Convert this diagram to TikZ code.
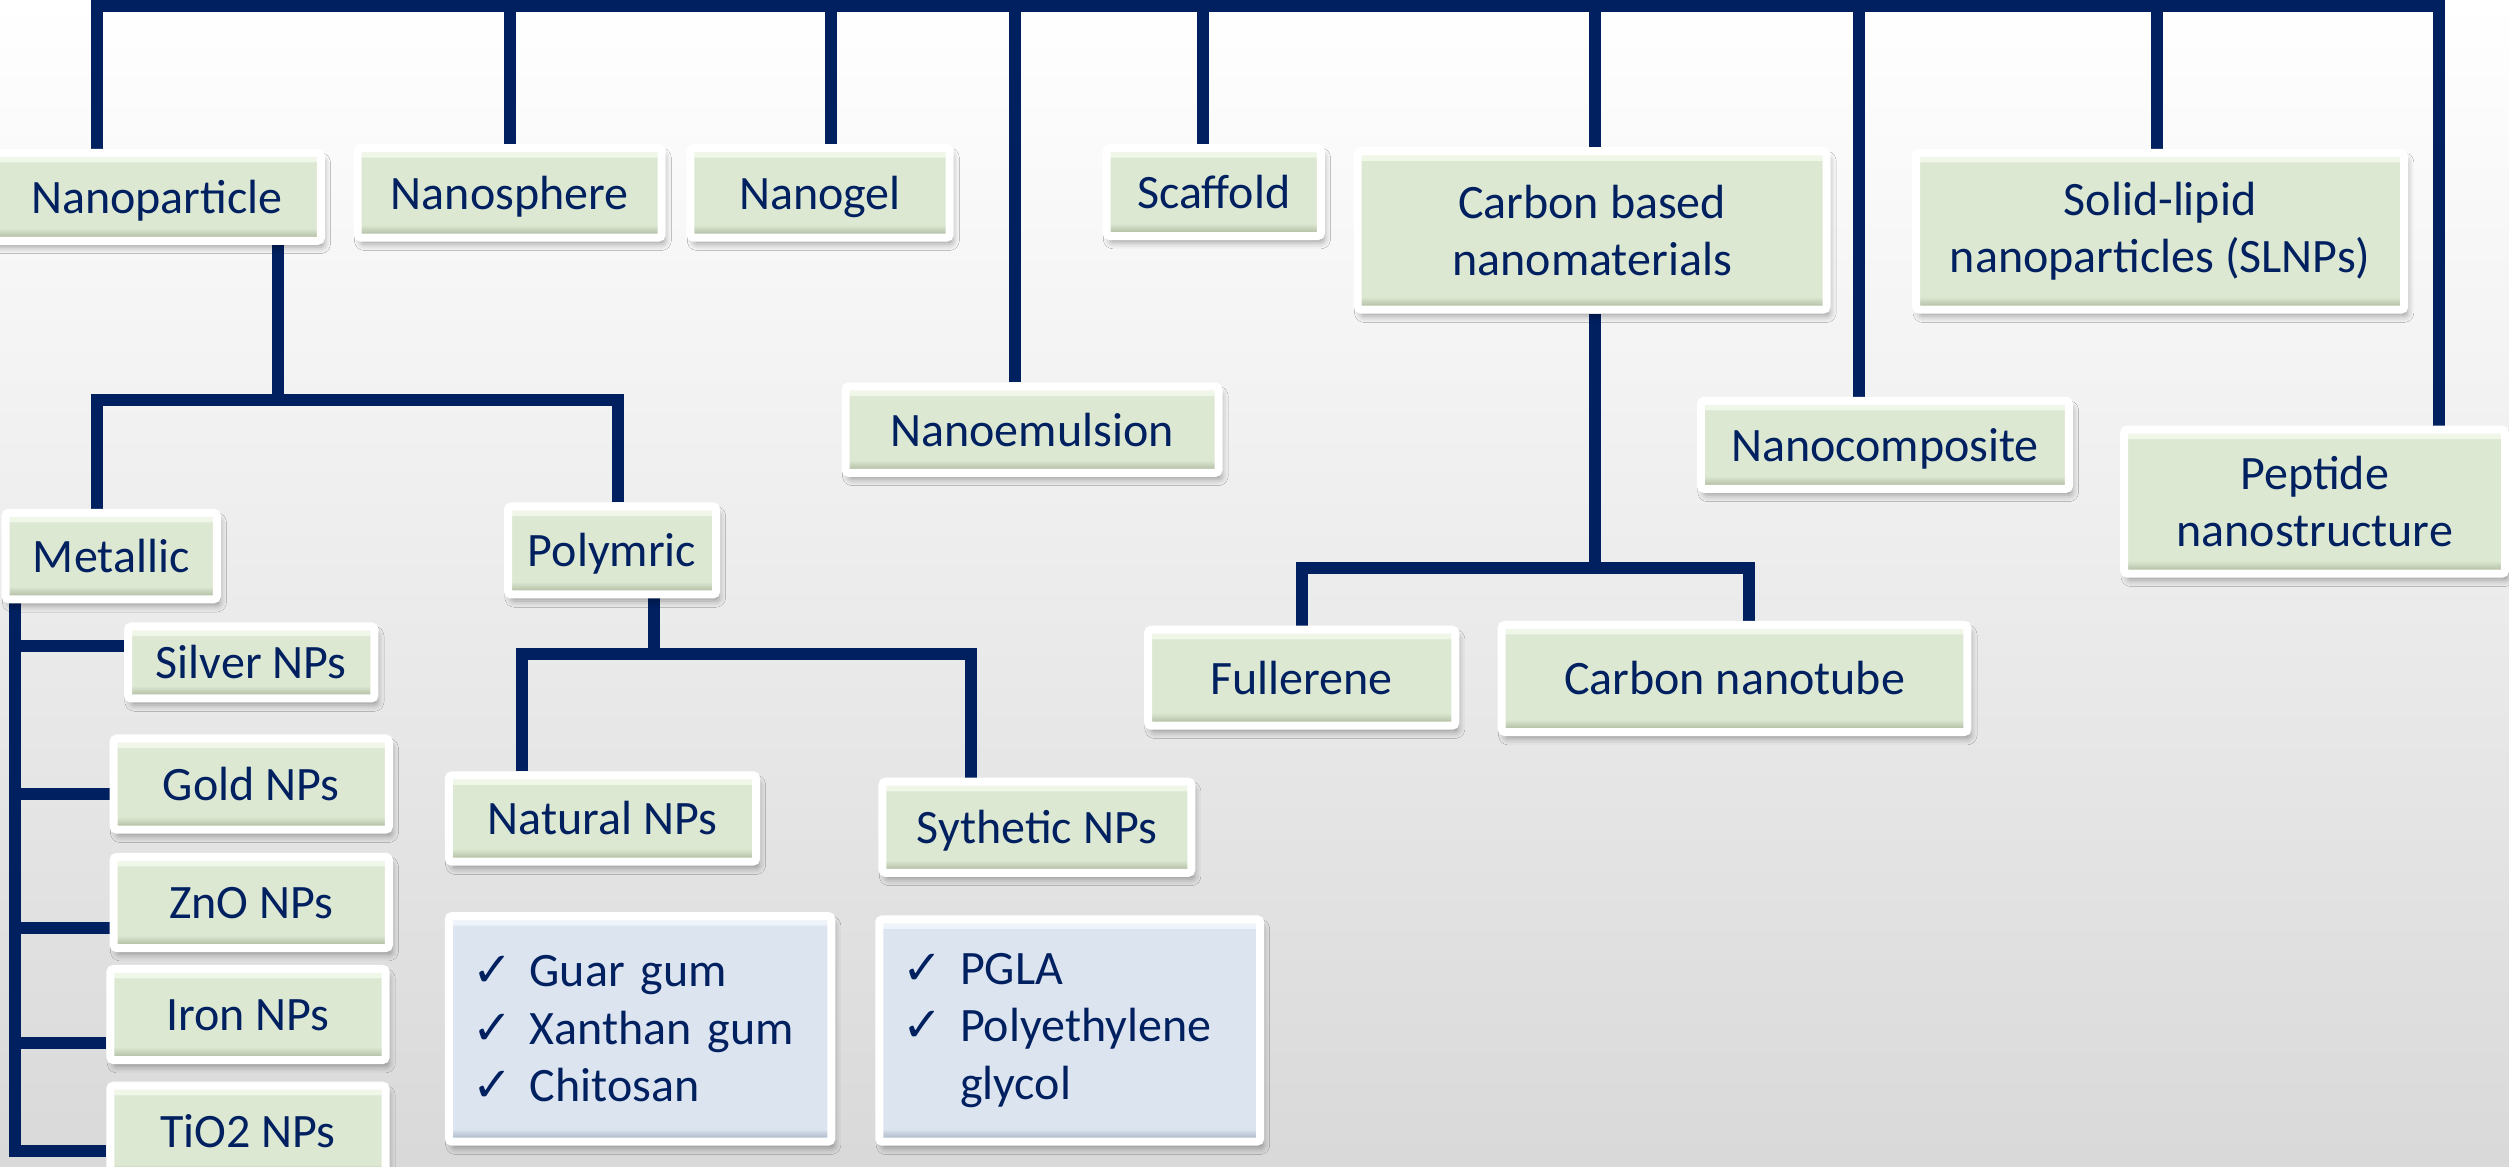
\documentclass[tikz,border=0pt]{standalone}
\usepackage{fontspec}
\setmainfont{Carlito}
\newfontfamily\symfont{DejaVu Sans}
\usetikzlibrary{calc,backgrounds,shadows.blur}
\definecolor{navy}{HTML}{002060}
\definecolor{boxgreen}{HTML}{DDE8D3}
\definecolor{greenhi}{HTML}{F1F8EA}
\definecolor{greenlo}{HTML}{A3AF93}
\definecolor{listblue}{HTML}{DBE4EF}
\definecolor{bluehi}{HTML}{EFF4FA}
\definecolor{bluelo}{HTML}{9EAABA}
\newcommand\bevel[3]{%
  \shade[top color=#2,bottom color=#1] (path picture bounding box.north west) rectangle ([yshift=-6pt]path picture bounding box.north east);%
  \shade[top color=#1,bottom color=#3] ([yshift=8pt]path picture bounding box.south west) rectangle (path picture bounding box.south east);}
\newcommand\chk{\makebox[36pt][l]{\symfont\fontsize{30}{36}\selectfont ✓}}
\tikzset{
  card/.style={rectangle,rounded corners=2pt,draw=white,line width=5pt,text=navy,inner sep=0pt,
    font=\fontsize{30}{36}\selectfont,
    blur shadow={shadow xshift=2pt,shadow yshift=-4pt,shadow blur radius=4pt,shadow opacity=35}},
  nbox/.style={card,fill=boxgreen,align=center,path picture={\bevel{boxgreen}{greenhi}{greenlo}}},
  tbox/.style={nbox,text height=24pt,text depth=3.5pt},
  lbox/.style={card,fill=listblue,align=left,inner xsep=14.5pt,path picture={\bevel{listblue}{bluehi}{bluelo}}},
  link/.style={draw=navy,line width=7.5pt}
}
\begin{document}
\begin{tikzpicture}[x=1pt,y=-1pt]
  \useasboundingbox (0,0) rectangle (1568,729);
  \node[tbox,minimum width=205pt,minimum height=55pt] (npart) at (98,123) {Nanoparticle};
  \node[tbox,minimum width=190pt,minimum height=56pt] (nsphere) at (318.5,120.5) {Nanosphere};
  \node[tbox,minimum width=162pt,minimum height=56pt] (ngel) at (512.5,120.5) {Nanogel};
  \node[tbox,minimum width=134pt,minimum height=55pt] (scaf) at (758.5,120) {Scaffold};
  \node[nbox,minimum width=293pt,minimum height=99pt] (carbon) at (995,144) {Carbon based\\nanomaterials};
  \node[nbox,minimum width=305pt,minimum height=98pt] (slnp) at (1350,144.5) {Solid-lipid\\nanoparticles (SLNPs)};
  \node[tbox,minimum width=233pt,minimum height=54pt] (nemul) at (645,268.5) {Nanoemulsion};
  \node[tbox,minimum width=230pt,minimum height=55pt] (ncomp) at (1178,278) {Nanocomposite};
  \node[nbox,minimum width=238pt,minimum height=90pt] (peptide) at (1446.5,313.5) {Peptide\\nanostructure};
  \node[tbox,minimum width=132pt,minimum height=54pt] (metal) at (69.5,347.5) {Metallic};
  \node[tbox,minimum width=130pt,minimum height=55pt] (polym) at (382.5,344) {Polymric};
  \node[tbox,minimum width=154pt,minimum height=45pt] (silver) at (157,414) {Silver NPs};
  \node[tbox,minimum width=172pt,minimum height=57pt] (gold) at (157,490) {Gold NPs};
  \node[tbox,minimum width=172pt,minimum height=57pt] (zno) at (157,564) {ZnO NPs};
  \node[tbox,minimum width=172pt,minimum height=57pt] (iron) at (155,634) {Iron NPs};
  \node[tbox,minimum width=172pt,minimum height=57pt] (tio) at (155,707) {TiO2 NPs};
  \node[tbox,minimum width=192pt,minimum height=60pt] (fuller) at (813.5,423.5) {Fullerene};
  \node[tbox,minimum width=291pt,minimum height=67pt] (cnt) at (1084,424) {Carbon nanotube};
  \node[tbox,minimum width=192pt,minimum height=54pt] (natural) at (376.5,511.5) {Natural NPs};
  \node[tbox,minimum width=193pt,minimum height=57pt] (synth) at (648,517) {Sythetic NPs};
  \node[lbox,text width=210pt,minimum height=141pt] (natlist) at (400,643) {\chk Guar gum\\\chk Xanthan gum\\\chk Chitosan};
  \node[lbox,text width=209pt,minimum height=139pt] (synlist) at (668.5,644) {\chk PGLA\\\chk Polyethylene\\\hspace*{36pt}glycol};
  \begin{pgfonlayer}{background}
    \shade[top color=white,bottom color=black!15] (0,0) rectangle (1568,729);
    \coordinate (bus) at (0,3.5);
    \coordinate (npj) at (0,250);
    \coordinate (pj) at (0,409);
    \coordinate (cj) at (0,355);
    \draw[link] ($(npart.north)+(-37.5,0)$) |- ($(peptide.north |- bus)+(78,0)$) -- ($(peptide.north)+(78,0)$);
    \foreach \n/\dx in {nsphere/0.5,ngel/7,nemul/-10.5,scaf/-6.5,carbon/1.5,ncomp/-16,slnp/-2}
      \draw[link] ($(\n.north)+(\dx,0)$) -- ($(\n.north |- bus)+(\dx,0)$);
    \draw[link] ($(npart.south)+(76,0)$) -- ($(npart.south |- npj)+(76,0)$);
    \draw[link] ($(metal.north)+(-9,0)$) |- ($(polym.north |- npj)+(3.5,0)$) -- ($(polym.north)+(3.5,0)$);
    \draw[link] ($(metal.south)+(-60,0)$) |- ($(tio.west)+(0,12)$);
    \foreach \n/\dy in {silver/-10,gold/6,zno/16,iron/18}
      \draw[link] ($(\n.west)+(0,\dy)$) -- ($(metal.south |- \n.west)+(-60,\dy)$);
    \draw[link] ($(polym.south)+(26.5,0)$) -- ($(polym.south |- pj)+(26.5,0)$);
    \draw[link] ($(natural.north)+(-50.5,0)$) |- ($(synth.north |- pj)+(-41,0)$) -- ($(synth.north)+(-41,0)$);
    \draw[link] ($(carbon.south)+(1.5,0)$) -- ($(carbon.south |- cj)+(1.5,0)$);
    \draw[link] (fuller.north) |- ($(cnt.north |- cj)+(9,0)$) -- ($(cnt.north)+(9,0)$);
  \end{pgfonlayer}
\end{tikzpicture}
\end{document}
